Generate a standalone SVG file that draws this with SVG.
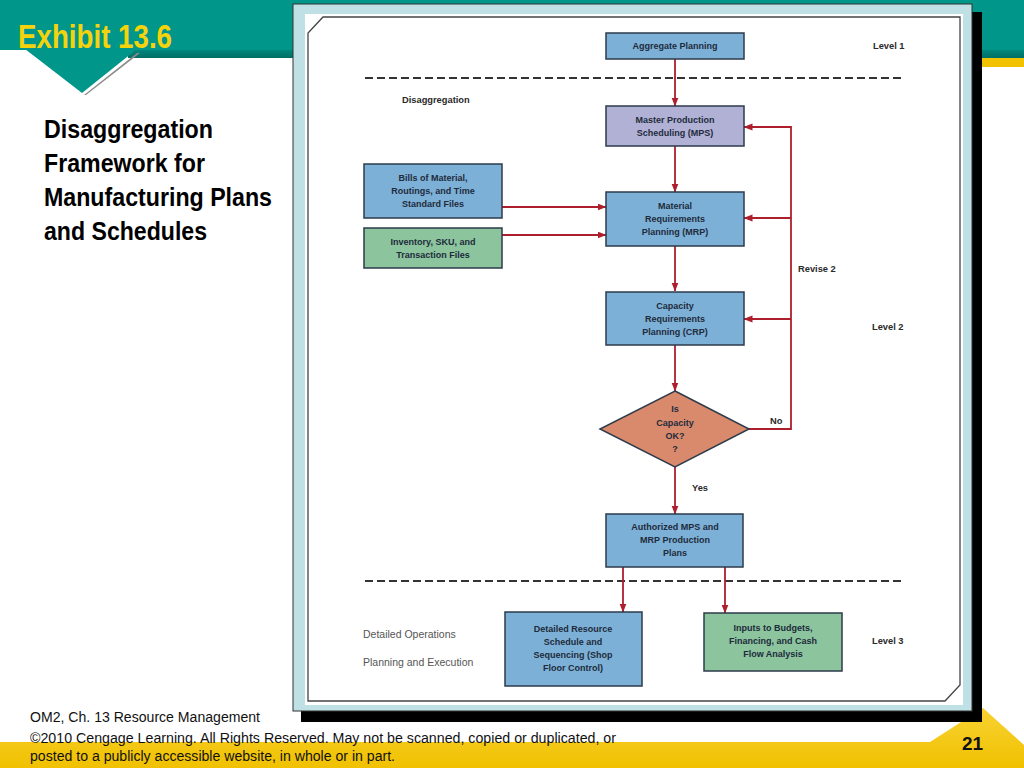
<svg xmlns="http://www.w3.org/2000/svg" width="1024" height="768" viewBox="0 0 1024 768">
<style>
.box{stroke:#2d3b4b;stroke-width:1.5}
.blue{fill:#7db0d6}
.lav{fill:#b1b1d5}
.green{fill:#8cc49d}
.salmon{fill:#da8a6c}
.bt{font-family:"Liberation Sans",Arial,sans-serif;font-weight:bold;font-size:9px;fill:#1d2b3c;text-anchor:middle}
.lbl{font-family:"Liberation Sans",Arial,sans-serif;font-weight:bold;font-size:9.3px;fill:#2a2a2a}
.reg{font-family:"Liberation Sans",Arial,sans-serif;font-size:10.5px;fill:#555}
.conn{stroke:#ad1f2d;stroke-width:1.8;fill:none}
.dash{stroke:#333;stroke-width:2;stroke-dasharray:8 4;fill:none}
.foot{font-family:"Liberation Sans",Arial,sans-serif;font-size:14px;fill:#111}
.sub{font-family:"Liberation Sans",Arial,sans-serif;font-weight:bold;font-size:25px;fill:#000}
</style>
<defs>
<marker id="arr" markerWidth="9" markerHeight="8" refX="8.5" refY="3.5" orient="auto" markerUnits="userSpaceOnUse">
<path d="M0,0 L9,3.5 L0,7 z" fill="#ad1f2d"/>
</marker>
<linearGradient id="yel" x1="0" y1="0" x2="0" y2="1">
<stop offset="0" stop-color="#f7d233"/>
<stop offset="1" stop-color="#f1c100"/>
</linearGradient>
<linearGradient id="dk" x1="0" y1="0" x2="0" y2="1">
<stop offset="0" stop-color="#00877c"/>
<stop offset="1" stop-color="#006e66"/>
</linearGradient>
</defs>
<rect width="1024" height="768" fill="#fff"/>
<!-- header -->
<g id="header">
<rect x="0" y="0" width="1024" height="50" fill="#009689"/>
<rect x="128" y="50" width="896" height="8" fill="url(#dk)"/>
<rect x="982" y="58" width="42" height="9" fill="#f2c200"/>
<polygon points="84,95 137,53 140,53 86,95" fill="#8a8a8a"/>
<polygon points="25,49 137,49 82,93" fill="#009689"/>
<text x="18" y="48" font-family="'Liberation Sans',Arial,sans-serif" font-weight="bold" font-size="33" fill="#f5d30c" textLength="154" lengthAdjust="spacingAndGlyphs">Exhibit 13.6</text>
</g>
<g id="subtitle">
<text class="sub" x="44" y="138" textLength="169" lengthAdjust="spacingAndGlyphs">Disaggregation</text>
<text class="sub" x="44" y="172" textLength="161" lengthAdjust="spacingAndGlyphs">Framework for</text>
<text class="sub" x="44" y="206" textLength="228" lengthAdjust="spacingAndGlyphs">Manufacturing Plans</text>
<text class="sub" x="44" y="240" textLength="163" lengthAdjust="spacingAndGlyphs">and Schedules</text>
</g>
<!-- footer band -->
<polygon points="0,742 930,742 983,708 1024,745 1024,768 0,768" fill="url(#yel)"/>
<!-- frame -->
<g id="frame">
<rect x="301" y="12" width="681" height="710" fill="#000"/>
<rect x="293" y="4" width="679" height="707" fill="#bfe0e4" stroke="#333" stroke-width="1"/>
<rect x="305" y="14" width="658" height="691" fill="#fff"/>
<path d="M323,17 H960 V685 L945,701 H308 V33 Z" fill="#fff" stroke="#444" stroke-width="1.3"/>
</g>
<!-- dashed separators -->
<path class="dash" d="M365,78 H905"/>
<path class="dash" d="M365,581 H905"/>
<!-- labels -->
<g id="labels">
<text class="lbl" x="873" y="49">Level 1</text>
<text class="lbl" x="402" y="103">Disaggregation</text>
<text class="lbl" x="798" y="272">Revise 2</text>
<text class="lbl" x="872" y="330">Level 2</text>
<text class="lbl" x="770" y="424">No</text>
<text class="lbl" x="692" y="491">Yes</text>
<text class="lbl" x="872" y="644">Level 3</text>
<text class="reg" x="363" y="638">Detailed Operations</text>
<text class="reg" x="363" y="666">Planning and Execution</text>
</g>
<!-- connectors -->
<g id="connectors">
<path class="conn" d="M675,59 V106" marker-end="url(#arr)"/>
<path class="conn" d="M675,146 V192" marker-end="url(#arr)"/>
<path class="conn" d="M675,246 V291" marker-end="url(#arr)"/>
<path class="conn" d="M675,345 V391" marker-end="url(#arr)"/>
<path class="conn" d="M675,467 V514" marker-end="url(#arr)"/>
<path class="conn" d="M502,207 H606" marker-end="url(#arr)"/>
<path class="conn" d="M502,235 H606" marker-end="url(#arr)"/>
<path class="conn" d="M749,429 H791 V127 H744" marker-end="url(#arr)"/>
<path class="conn" d="M791,218 H744" marker-end="url(#arr)"/>
<path class="conn" d="M791,319 H744" marker-end="url(#arr)"/>
<path class="conn" d="M623,567 V612" marker-end="url(#arr)"/>
<path class="conn" d="M725,567 V613" marker-end="url(#arr)"/>
</g>
<!-- nodes -->
<g id="aggregate">
<rect class="box blue" x="606" y="33" width="138" height="26"/>
<text class="bt" x="675" y="49">Aggregate Planning</text>
</g>
<g id="mps">
<rect class="box lav" x="606" y="106" width="138" height="40"/>
<text class="bt" x="675" y="123">Master Production</text>
<text class="bt" x="675" y="136">Scheduling  (MPS)</text>
</g>
<g id="bills">
<rect class="box blue" x="364" y="164" width="138" height="54"/>
<text class="bt" x="433" y="181">Bills of Material,</text>
<text class="bt" x="433" y="194">Routings, and Time</text>
<text class="bt" x="433" y="207">Standard Files</text>
</g>
<g id="inventory">
<rect class="box green" x="364" y="228" width="138" height="40"/>
<text class="bt" x="433" y="245">Inventory, SKU, and</text>
<text class="bt" x="433" y="258">Transaction Files</text>
</g>
<g id="mrp">
<rect class="box blue" x="606" y="192" width="138" height="54"/>
<text class="bt" x="675" y="209">Material</text>
<text class="bt" x="675" y="222">Requirements</text>
<text class="bt" x="675" y="235">Planning (MRP)</text>
</g>
<g id="crp">
<rect class="box blue" x="606" y="292" width="138" height="53"/>
<text class="bt" x="675" y="309">Capacity</text>
<text class="bt" x="675" y="322">Requirements</text>
<text class="bt" x="675" y="335">Planning (CRP)</text>
</g>
<g id="decision">
<polygon class="box salmon" points="675,391 749,429 675,467 600,429"/>
<text class="bt" x="675" y="412">Is</text>
<text class="bt" x="675" y="426">Capacity</text>
<text class="bt" x="675" y="439">OK?</text>
<text class="bt" x="675" y="452">?</text>
</g>
<g id="authorized">
<rect class="box blue" x="606" y="514" width="137" height="53"/>
<text class="bt" x="675" y="530">Authorized MPS and</text>
<text class="bt" x="675" y="543">MRP Production</text>
<text class="bt" x="675" y="556">Plans</text>
</g>
<g id="detailed">
<rect class="box blue" x="505" y="612" width="137" height="74"/>
<text class="bt" x="573" y="632">Detailed Resource</text>
<text class="bt" x="573" y="645">Schedule and</text>
<text class="bt" x="573" y="658">Sequencing (Shop</text>
<text class="bt" x="573" y="671">Floor Control)</text>
</g>
<g id="inputs">
<rect class="box green" x="704" y="613" width="138" height="58"/>
<text class="bt" x="773" y="631">Inputs to Budgets,</text>
<text class="bt" x="773" y="644">Financing, and Cash</text>
<text class="bt" x="773" y="657">Flow Analysis</text>
</g>
<!-- footer -->
<g id="footer">
<text class="foot" x="30" y="722" textLength="230" lengthAdjust="spacingAndGlyphs">OM2, Ch. 13 Resource Management</text>
<text class="foot" x="30" y="743" textLength="586" lengthAdjust="spacingAndGlyphs">©2010 Cengage Learning. All Rights Reserved.  May not be scanned, copied or duplicated, or</text>
<text class="foot" x="30" y="761" textLength="365" lengthAdjust="spacingAndGlyphs">posted to a publicly accessible website, in whole or in part.</text>
<text x="962" y="750" font-family="'Liberation Sans',Arial,sans-serif" font-weight="bold" font-size="19" fill="#111">21</text>
</g>
</svg>
